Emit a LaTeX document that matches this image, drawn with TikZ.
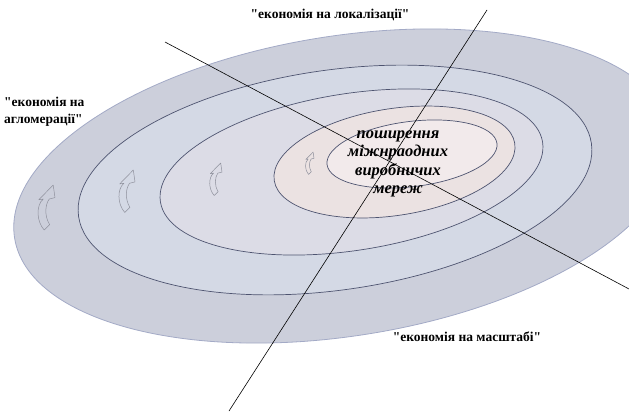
\documentclass[tikz,border=0pt]{standalone}
\usepackage{fontspec}
\setmainfont{Liberation Serif}[Ligatures=TeXOff]
\definecolor{ringA}{HTML}{CCCFDB}
\definecolor{ringB}{HTML}{D4D9E5}
\definecolor{ringC}{HTML}{DCDCE6}
\definecolor{ringD}{HTML}{EBE2E2}
\definecolor{ringE}{HTML}{F2EAEB}
\definecolor{edgeout}{HTML}{A3AAC6}
\definecolor{edgein}{HTML}{4E5470}
\definecolor{arrowgray}{HTML}{8E909C}
\begin{document}
\begin{tikzpicture}[x=1pt,y=-1pt,
  outerring/.style={draw=edgeout,fill=ringA,line width=0.8pt},
  innerring/.style={draw=edgein,line width=0.7pt},
  axisline/.style={draw=black,line width=0.6pt},
  lbl/.style={font=\fontsize{13.5}{17}\selectfont\bfseries,inner sep=0pt},
  centerlbl/.style={font=\fontsize{16.5}{18.5}\selectfont\bfseries\itshape,align=center,inner sep=0pt},
  pics/curvup/.style={code={
    \draw[draw=arrowgray,line width=0.5pt,line join=round,scale=#1]
      (0.9,0) -- (1.0,0.7) -- (0.68,0.78)
      .. controls (0.45,1.1) and (0.4,1.7) .. (0.7,2.2)
      -- (0.4,2.5)
      .. controls (-0.05,2.0) and (-0.05,1.1) .. (0.35,0.78)
      -- (0.1,0.82) -- cycle;
  }}]
\useasboundingbox (0,0) rectangle (629,414);
% rings
\draw[outerring, shift={(343.5,186)}, rotate=9] (0,0) ellipse [x radius=333, y radius=150];
\draw[innerring, fill=ringB, shift={(335,180)}, rotate=8.1] (0,0) ellipse [x radius=259, y radius=110];
\draw[innerring, fill=ringC, shift={(351.5,172)}, rotate=8.9] (0,0) ellipse [x radius=193.4, y radius=78.4];
\draw[innerring, fill=ringD, shift={(394.5,162)}, rotate=8.8] (0,0) ellipse [x radius=121.7, y radius=53.4];
\draw[innerring, fill=ringE, shift={(412,154)}, rotate=7.1] (0,0) ellipse [x radius=85.6, y radius=32.6];
% curved arrows
\pic at (37,185) {curvup=18};
\pic at (118,170) {curvup=17};
\pic at (209,163) {curvup=13};
\pic at (305,152) {curvup=9};
% labels
\node[lbl] (loc) at (330,15) {"економія на локалізації"};
\node[lbl, align=left, anchor=north west] (agl) at (4,97) {"економія на\\агломерації"};
\node[lbl] (scale) at (467,337) {"економія на масштабі"};
\node[centerlbl] (net) at (398,164) {поширення\\міжнраодних\\виробничих\\мереж};
% axes
\coordinate (a1) at (165,42);
\coordinate (a2) at (629,289);
\coordinate (b1) at (487,10);
\coordinate (b2) at (229,411);
\draw[axisline] (a1) -- (a2);
\draw[axisline] (b1) -- (b2);
\end{tikzpicture}
\end{document}
